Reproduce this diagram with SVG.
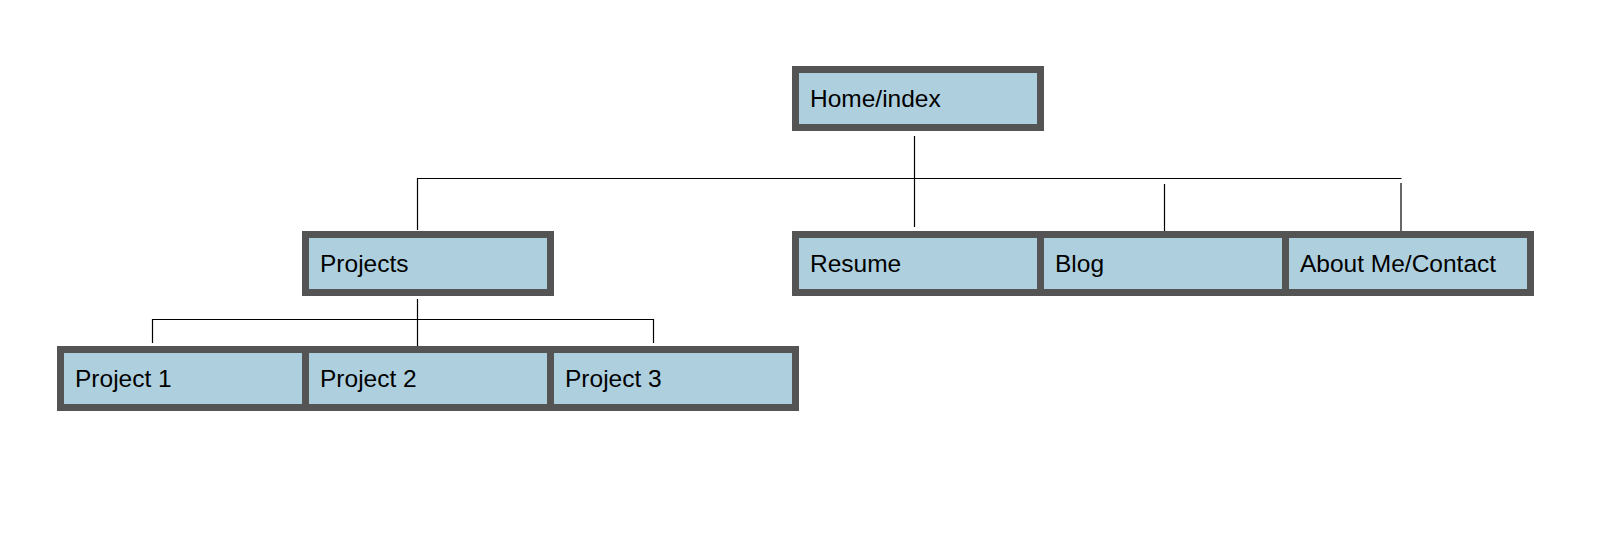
<svg xmlns="http://www.w3.org/2000/svg" width="1608" height="558" viewBox="0 0 1608 558">
<style>
.box{fill:#aed0de;stroke:#545454;stroke-width:7}
.lbl{font-family:"Liberation Sans",Arial,sans-serif;font-size:24.5px;fill:#000}
.conn line{stroke:#000;stroke-width:1.2;fill:none}
</style>
<rect width="1608" height="558" fill="#fff"/>
<g class="conn" id="connectors">
<line x1="914.5" y1="136" x2="914.5" y2="227"/>
<line x1="417" y1="178.5" x2="1401.5" y2="178.5"/>
<line x1="417.5" y1="178" x2="417.5" y2="230"/>
<line x1="1164.5" y1="184" x2="1164.5" y2="233"/>
<line x1="1401" y1="183" x2="1401" y2="233"/>
<line x1="417.5" y1="299" x2="417.5" y2="351"/>
<line x1="152" y1="319.5" x2="654" y2="319.5"/>
<line x1="152.5" y1="319" x2="152.5" y2="343"/>
<line x1="653.5" y1="319" x2="653.5" y2="343"/>
</g>
<g id="home"><rect class="box" x="795.5" y="69.5" width="245" height="58"/><text class="lbl" x="810" y="106.5">Home/index</text></g>
<g id="projects"><rect class="box" x="305.5" y="234.5" width="245" height="58"/><text class="lbl" x="320" y="271.5">Projects</text></g>
<g id="resume"><rect class="box" x="795.5" y="234.5" width="245" height="58"/><text class="lbl" x="810" y="271.5">Resume</text></g>
<g id="blog"><rect class="box" x="1040.5" y="234.5" width="245" height="58"/><text class="lbl" x="1055" y="271.5">Blog</text></g>
<g id="about"><rect class="box" x="1285.5" y="234.5" width="245" height="58"/><text class="lbl" x="1300" y="271.5">About Me/Contact</text></g>
<g id="project1"><rect class="box" x="60.5" y="349.5" width="245" height="58"/><text class="lbl" x="75" y="386.5">Project 1</text></g>
<g id="project2"><rect class="box" x="305.5" y="349.5" width="245" height="58"/><text class="lbl" x="320" y="386.5">Project 2</text></g>
<g id="project3"><rect class="box" x="550.5" y="349.5" width="245" height="58"/><text class="lbl" x="565" y="386.5">Project 3</text></g>
</svg>
